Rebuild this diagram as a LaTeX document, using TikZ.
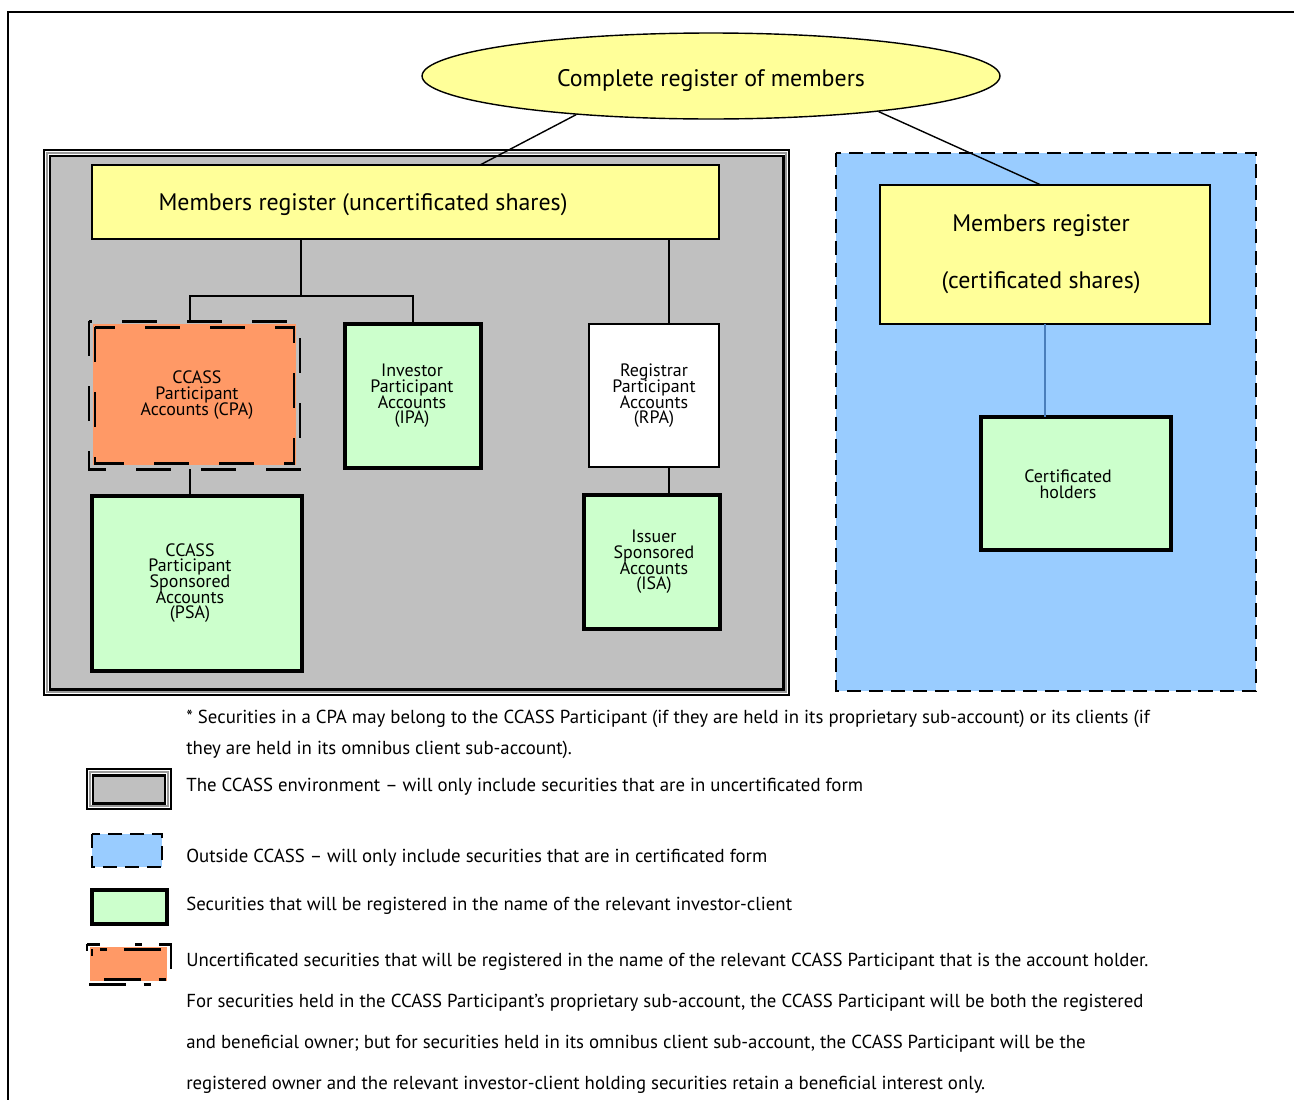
\documentclass[tikz,border=0pt]{standalone}
\usepackage{fontspec}
\setmainfont{PT Sans}
\usetikzlibrary{shapes.geometric, fit, calc}

\definecolor{regyellow}{HTML}{FFFF99}
\definecolor{envgray}{HTML}{C0C0C0}
\definecolor{outblue}{HTML}{99CCFF}
\definecolor{acgreen}{HTML}{CCFFCC}
\definecolor{cpaorange}{HTML}{FF9966}
\definecolor{linkblue}{HTML}{4A7EBB}

% tight account labels, lines may touch
\newcommand{\acfont}{\fontsize{10.2}{8.9}\selectfont\lineskiplimit=-20pt\relax}

\begin{document}
\begin{tikzpicture}[x=0.02cm, y=-0.02cm, line join=miter,
    box/.style={inner sep=0pt, outer sep=0pt},
    regbox/.style={box, draw, fill=regyellow, line width=1.1pt},
    greenbox/.style={box, draw, fill=acgreen, line width=2.8pt},
    plainbox/.style={box, draw, fill=white, line width=1.1pt},
    cpadash/.style={line width=1.7pt, dash pattern=on 20pt off 17pt},
    outdash/.style={line width=1.1pt, dash pattern=on 8pt off 4.5pt},
    link/.style={line width=0.8pt},
    regtext/.style={font=\fontsize{13.6}{16}\selectfont},
    acctext/.style={align=center, font=\acfont},
    legtext/.style={anchor=base west, inner sep=0pt, font=\fontsize{10.7}{12}\selectfont}]

    % page size: 1294 x 1099 px, y grows downward
    \useasboundingbox (0,0) rectangle (1294,1099);

    % page frame, open to the right and bottom
    \draw[line width=1.4pt] (8,1110) |- (1300,12);

    % CCASS environment: double frame on gray
    \draw[line width=1.1pt, fill=white] (44,150) rectangle (789,695);
    \draw[line width=0.6pt, gray!80] (47,153) rectangle (786,692);
    \draw[line width=1.7pt, fill=envgray] (50,156) rectangle (783,689);

    % Outside CCASS: dashed blue area
    \draw[outdash, fill=outblue] (836,153) rectangle (1256,691);

    % Top register
    \node[ellipse, draw, fill=regyellow, line width=0.8pt, inner sep=0pt,
          minimum width=11.56cm, minimum height=1.72cm, regtext] (top) at (711,76)
          {\raisebox{-5.8pt}[0pt][0pt]{Complete register of members}};

    % The two members registers
    \node[regbox, fit={(92,165) (719,239)}] (regu) {};
    \node[regtext] (regu-t) at (363,205) {Members register (uncertificated shares)};
    \node[regbox, fit={(880,185) (1210,324)}] (regc) {};
    \node[regtext, align=center, font=\fontsize{13.6}{32.5}\selectfont] (regc-t) at (1041,254)
          {Members register\\(certificated shares)};

    % Account boxes
    \node[box, fill=cpaorange, fit={(93,324) (296,465)}] (cpa) {};
    \draw[cpadash] ($(cpa.north west)+(-4,-3)$) rectangle ($(cpa.south east)+(4,4)$);
    \draw[cpadash] ($(cpa.north west)+(2,3)$) rectangle ($(cpa.south east)+(-2,-2)$);
    \node[greenbox, fit={(345,324) (481,468)}] (ipa) {};
    \node[plainbox, fit={(589,324) (719,467)}] (rpa) {};
    \node[greenbox, fit={(92,496) (302,671)}] (psa) {};
    \node[greenbox, fit={(584,495) (720,629)}] (isa) {};
    \node[greenbox, fit={(981,417) (1171,550)}] (cert) {};

    \node[acctext] (cpa-t)  at (197,395) {CCASS\\Participant\\Accounts (CPA)};
    \node[acctext] (ipa-t)  at (412,396) {Investor\\Participant\\Accounts\\(IPA)};
    \node[acctext] (rpa-t)  at (654,396) {Registrar\\Participant\\Accounts\\(RPA)};
    \node[acctext] (psa-t)  at (190,583) {CCASS\\Participant\\Sponsored\\Accounts\\(PSA)};
    \node[acctext] (isa-t)  at (654,562) {Issuer\\Sponsored\\Accounts\\(ISA)};
    \node[acctext] (cert-t) at (1068,484) {Certificated\\holders};

    % Connectors
    \coordinate (ja) at (480,0);
    \coordinate (jb) at (1041,0);
    \coordinate (jn) at (301,296);
    \coordinate (jl) at (190,296);
    \coordinate (jr) at (669,0);
    \coordinate (jc) at (1045,0);
    \draw[link] (top.196) -- (regu.north -| ja);
    \draw[link] (top.348) -- (regc.north -| jb);
    \draw[link] (regu.south -| jn) -- (jn);
    \draw[link] ($(cpa.north -| jl)+(0,-3)$) |- (jn) -| (ipa.north);
    \draw[link] ($(cpa.south -| jl)+(0,4)$) -- (psa.north -| jl);
    \draw[link] (regu.south -| jr) -- (rpa.north -| jr);
    \draw[link] (rpa.south -| jr) -- (isa.north -| jr);
    \draw[link, linkblue] (regc.south -| jc) -- (cert.north -| jc);

    % Note
    \node[legtext] (note-a) at (186,723) {* Securities in a CPA may belong to the CCASS Participant (if they are held in its proprietary sub-account) or its clients (if};
    \node[legtext] (note-b) at (186,754) {they are held in its omnibus client sub-account).};

    % Legend symbols
    \draw[line width=1.1pt, fill=white] (87,769) rectangle (171,809);
    \draw[line width=0.6pt, gray!80] (90,772) rectangle (168,806);
    \draw[line width=1.7pt, fill=envgray] (93,775) rectangle (165,803);
    \draw[outdash, fill=outblue] (92,834) rectangle (162,867);
    \node[greenbox, fit={(92,890) (167,924)}] (key-g) {};
    \node[box, fill=cpaorange, fit={(90,947) (167,981)}] (key-o) {};
    \draw[cpadash, dash pattern=on 4pt off 20pt on 21pt off 10pt] (87,944) rectangle (171,984);
    \draw[cpadash, dash pattern=on 4pt off 20pt on 21pt off 10pt] (92,949) rectangle (166,979);

    % Legend texts
    \node[legtext] (key-1) at (186,791) {The CCASS environment – will only include securities that are in uncertificated form};
    \node[legtext] (key-2) at (186,862) {Outside CCASS – will only include securities that are in certificated form};
    \node[legtext] (key-3) at (186,910) {Securities that will be registered in the name of the relevant investor-client};
    \node[legtext] (key-4) at (186,966) {Uncertificated securities that will be registered in the name of the relevant CCASS Participant that is the account holder.};
    \node[legtext] (key-5) at (186,1007) {For securities held in the CCASS Participant’s proprietary sub-account, the CCASS Participant will be both the registered};
    \node[legtext] (key-6) at (186,1048) {and beneficial owner; but for securities held in its omnibus client sub-account, the CCASS Participant will be the};
    \node[legtext] (key-7) at (186,1089) {registered owner and the relevant investor-client holding securities retain a beneficial interest only.};

\end{tikzpicture}
\end{document}
